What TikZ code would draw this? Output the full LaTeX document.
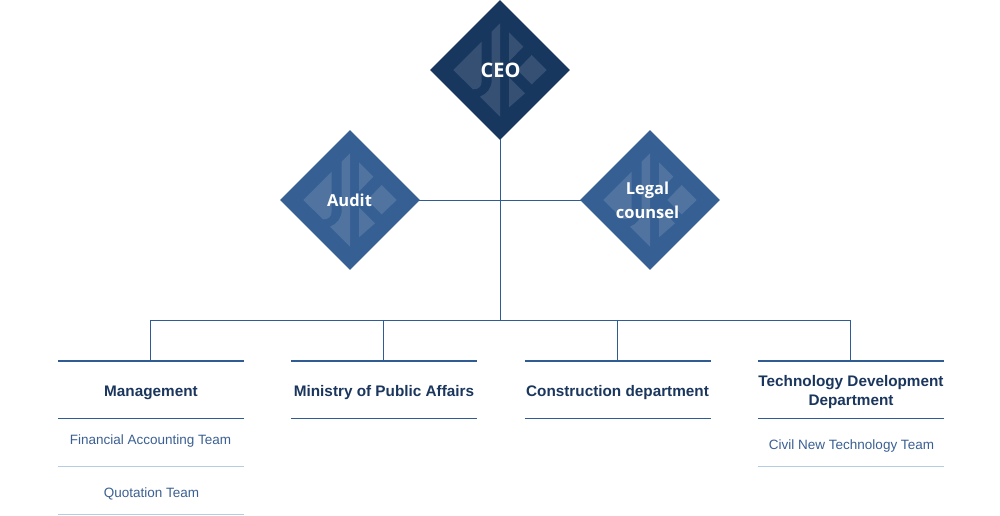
\documentclass[tikz,border=0pt]{standalone}
\usepackage{fontspec}
\setmainfont{Liberation Sans}
\newfontfamily\diafont{Open Sans}
\usetikzlibrary{shapes.geometric}
\definecolor{navy}{HTML}{18375F}
\definecolor{midblue}{HTML}{365F93}
\definecolor{linkblue}{HTML}{2F5D93}
\definecolor{palerule}{HTML}{B5CDE4}
\definecolor{deptink}{HTML}{1B365D}
\definecolor{teamink}{HTML}{3A5F92}
\tikzset{
  dia/.style={diamond,aspect=1,minimum width=140pt,minimum height=140pt,inner sep=0pt,fill=#1},
  dialabel/.style={font=\diafont\bfseries\fontsize{16.5}{24.5}\selectfont,text=white,align=center,inner sep=0pt},
  ceolabel/.style={font=\diafont\bfseries\fontsize{20}{24.5}\selectfont,text=white,inner sep=0pt},
  link/.style={draw=linkblue,line width=1pt},
  rulea/.style={draw=linkblue,line width=2pt},
  ruleb/.style={draw=linkblue,line width=1.2pt},
  rulec/.style={draw=palerule,line width=1.2pt},
  dept/.style={font=\bfseries\fontsize{15.3}{19}\selectfont,text=deptink,align=center,inner sep=0pt},
  team/.style={font=\fontsize{13.5}{17}\selectfont,text=teamink,align=center,inner sep=0pt},
  logopart/.style={fill=white,fill opacity=.13}
}
\newcommand{\logomark}[2]{%
  \begin{scope}[shift={(#1,#2)}]
    \fill[logopart] (-46.7,0) -- (-18.3,-28.3) -- (-18.3,11) .. controls (-18.3,17) and (-22,19.5) .. (-27,19.3) -- cycle;
    \fill[logopart] (0,-46.7) -- (-8.3,-38.3) -- (-8.3,10) .. controls (-8.3,18) and (-13,24) .. (-20,26.7) -- (0,46.7) -- cycle;
    \fill[logopart] (9,-37.7) -- (23.3,-23.3) -- (9,-8.5) -- cycle;
    \fill[logopart] (9,7.5) -- (25,23.3) -- (9,37.3) -- cycle;
    \fill[logopart] (31.7,-15) -- (46.7,0) -- (31.7,14.3) -- (17.3,0) -- cycle;
  \end{scope}}
\begin{document}
\begin{tikzpicture}[x=1pt,y=-1pt]
  \useasboundingbox (0,0) rectangle (1000,515);
  % connectors
  \node[dia=navy] (ceo) at (500,70) {};
  \node[dia=midblue] (audit) at (350,200) {};
  \node[dia=midblue] (legal) at (650,200) {};
  \coordinate (hub) at (500.5,320.5);
  \coordinate (ceofoot) at (500.5,139);
  \coordinate (topa) at (150.5,360.5);
  \coordinate (topb) at (383.5,360.5);
  \coordinate (topc) at (617.5,360.5);
  \coordinate (topd) at (850.5,360.5);
  \coordinate (audite) at (419,200.5);
  \coordinate (legalw) at (581,200.5);
  \draw[link] (ceofoot) -- (hub);
  \draw[link] (audite) -- (legalw);
  \draw[link] (topa) |- (hub);
  \draw[link] (topd) |- (hub);
  \draw[link] (topb) -- (topb |- hub);
  \draw[link] (topc) -- (topc |- hub);
  % logo marks
  \logomark{500}{70}
  \logomark{350}{200}
  \logomark{650}{200}
  \node[ceolabel] (ceotext) at (500.5,70.5) {CEO};
  \node[dialabel] (audittext) at (349.5,200.5) {Audit};
  \node[dialabel] (legaltext) at (647.5,200.5) {Legal\\counsel};
  % rules
  \draw[rulea] (58,361) -- (244,361);
  \draw[rulea] (291,361) -- (477,361);
  \draw[rulea] (525,361) -- (711,361);
  \draw[rulea] (758,361) -- (944,361);
  \draw[ruleb] (58,418.5) -- (244,418.5);
  \draw[ruleb] (291,418.5) -- (477,418.5);
  \draw[ruleb] (525,418.5) -- (711,418.5);
  \draw[ruleb] (758,418.5) -- (944,418.5);
  \draw[rulec] (58,466.5) -- (244,466.5);
  \draw[rulec] (58,514.4) -- (244,514.4);
  \draw[rulec] (758,466.5) -- (944,466.5);
  % texts
  \node[dept] (d1) at (151,393) {Management};
  \node[dept] (d2) at (384,393) {Ministry of Public Affairs};
  \node[dept] (d3) at (617.5,393) {Construction department};
  \node[dept] (d4) at (851,392.5) {Technology Development\\Department};
  \node[team] (t1) at (150.5,440.5) {Financial Accounting Team};
  \node[team] (t2) at (151.5,493.5) {Quotation Team};
  \node[team] (t3) at (851.5,445.5) {Civil New Technology Team};
\end{tikzpicture}
\end{document}
